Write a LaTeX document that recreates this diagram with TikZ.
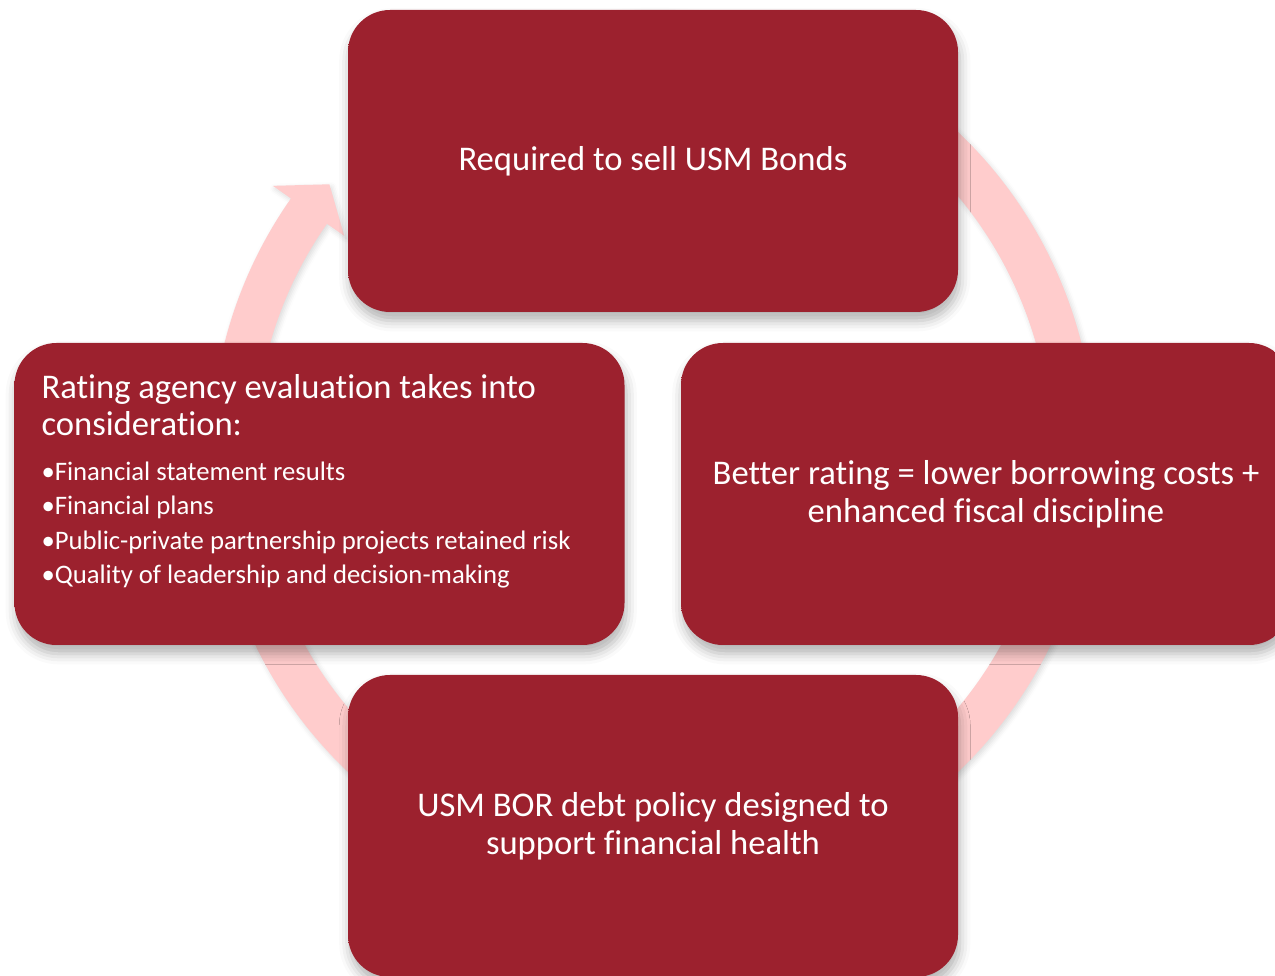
\documentclass[tikz,border=0pt]{standalone}
\usepackage{fontspec}
\setmainfont{Carlito}[Ligatures=NoCommon]
\usetikzlibrary{positioning,shadows.blur}

\definecolor{boxred}{RGB}{156,33,46}
\definecolor{boxrim}{RGB}{242,104,116}
\definecolor{boxmid}{RGB}{196,64,76}
\definecolor{boxlow}{RGB}{146,26,37}
\definecolor{ringpink}{RGB}{255,204,204}

\pgfdeclareverticalshading{boxshade}{100bp}{color(0bp)=(boxmid); color(1bp)=(boxlow); color(5bp)=(boxred); color(93bp)=(boxred); color(97.5bp)=(boxmid); color(100bp)=(boxrim)}

\begin{document}
\begin{tikzpicture}[
    cyclebox/.style={rounded corners=0.42cm, minimum width=6.1cm, minimum height=3.02cm,
      shade, shading=boxshade, inner sep=0pt, text=white, align=center,
      font=\fontsize{9.85}{10.8}\selectfont,
      blur shadow={shadow xshift=0.5pt, shadow yshift=-2.5pt, shadow blur radius=3pt, shadow opacity=30}},
    ringarrow/.style={fill=ringpink,
      blur shadow={shadow xshift=0.6pt, shadow yshift=-0.8pt, shadow blur radius=1.5pt, shadow opacity=15}},
    boxhead/.style={inner sep=0pt, text=white, align=left, font=\fontsize{9.85}{10.6}\selectfont},
    boxlist/.style={inner sep=0pt, text=white, align=left, font=\fontsize{7.6}{9.76}\selectfont}
  ]
  \useasboundingbox (0,0) rectangle (12.75,9.75);
  \clip (0,0) rectangle (12.75,9.75);

  % the cycle arrow behind the boxes
  \coordinate (ringc) at (6.53,5.23);
  \begin{scope}[shift={(ringc)}]
    \fill[ringarrow] (145:4.42) arc[start angle=145, end angle=475, radius=4.42]
      -- (475:3.98) arc[start angle=475, end angle=145, radius=3.98]
      -- (145:3.77) -- (140.4:4.2) -- (145:4.64) -- cycle;
  \end{scope}

  \node[cyclebox] (bonds) at (6.53,8.14) {Required to sell USM Bonds};
  \node[cyclebox] (rating) at (3.195,4.81) {};
  \node[cyclebox] (better) at (9.86,4.81) {Better rating = lower borrowing costs +\\enhanced fiscal discipline};
  \node[cyclebox] (policy) at (6.53,1.49) {USM BOR debt policy designed to\\support financial health};

  \node[boxhead, below right=0.31cm and 0.27cm of rating.north west] (ratehead)
    {Rating agency evaluation takes into\\consideration:};
  \node[boxlist, below right=1.19cm and 0.27cm of rating.north west] (ratelist)
    {•Financial statement results\\
     •Financial plans\\
     •Public-private partnership projects retained risk\\
     •Quality of leadership and decision-making};
\end{tikzpicture}
\end{document}
